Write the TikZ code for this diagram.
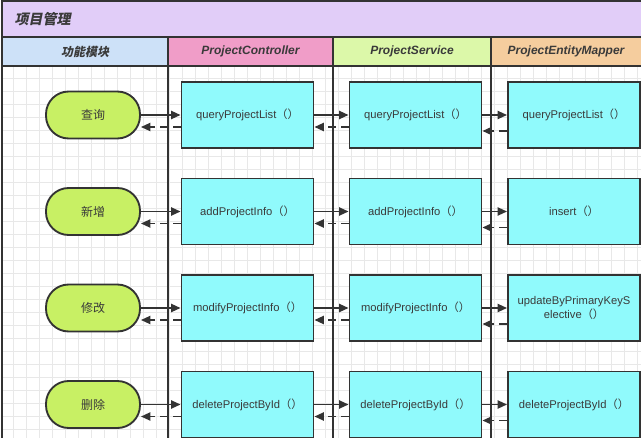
\documentclass[tikz,border=0pt]{standalone}
\usepackage{fontspec}
\setmainfont{Liberation Sans}
\newfontfamily\cjk{Noto Sans CJK SC}
\newfontfamily\cjkslant[FakeSlant=0.2]{Noto Sans CJK SC}
\usetikzlibrary{arrows.meta}
\definecolor{linegray}{HTML}{333333}
\definecolor{textgray}{HTML}{3A3A3A}
\definecolor{gridgray}{HTML}{E8E8E8}
\definecolor{titlepurple}{HTML}{E1CDF8}
\definecolor{headblue}{HTML}{CDE1F8}
\definecolor{headpink}{HTML}{F09DC8}
\definecolor{headgreen}{HTML}{DCF8A9}
\definecolor{headpeach}{HTML}{F5CD9E}
\definecolor{funcgreen}{HTML}{C8F064}
\definecolor{methodcyan}{HTML}{90FAFC}
\begin{document}
\begin{tikzpicture}[x=0.75pt,y=-0.75pt,
  func/.style={draw=linegray, line width=1.4pt, fill=funcgreen, rounded corners=17pt,
    minimum width=70.5pt, minimum height=35.25pt, inner sep=0pt,
    font=\cjk\fontsize{9}{11}\selectfont, text=textgray},
  method/.style={draw=linegray, line width=1.4pt, fill=methodcyan,
    minimum width=99pt, minimum height=49.5pt, inner sep=2pt, align=center,
    font=\fontsize{8.4}{11}\selectfont, text=textgray},
  call/.style={draw=linegray, line width=1.4pt, -{Triangle[length=7pt,width=6pt]}},
  reply/.style={call, dash pattern=on 6pt off 3.5pt},
  lane/.style={draw=linegray, line width=1.4pt},
  head/.style={font=\bfseries\itshape\fontsize{9}{11}\selectfont, text=textgray}]
\useasboundingbox (0,0) rectangle (641,438);

% Background grid
\fill [white] (2,66) rectangle (641,438);
\draw [gridgray, line width=0.5pt, step=9.75pt] (2,66) grid (641,438);

% Title band
\fill [titlepurple] (2,1) rectangle (641,37);
\node [anchor=west, text=textgray] (title) at (10,19) {\cjkslant\bfseries\fontsize{10.5}{12}\selectfont 项目管理};

% Header cells
\fill [headblue] (2,37) rectangle (168,66);
\fill [headpink] (168,37) rectangle (333,66);
\fill [headgreen] (333,37) rectangle (491,66);
\fill [headpeach] (491,37) rectangle (641,66);
\node [head] (H1) at (85,51.5) {\cjkslant 功能模块};
\node [head] (H2) at (250.5,51.5) {ProjectController};
\node [head] (H3) at (412,51.5) {ProjectService};
\node [head] (H4) at (566,51.5) {ProjectEntityMapper};

% Drawing frame and lanes
\draw [lane] (2,440) -- (2,1) -- (643,1);
\draw [linegray, line width=1pt] (2,37) -- (641,37);
\draw [linegray, line width=1pt] (2,66) -- (641,66);
\draw [lane] (168,37) -- (168,440);
\draw [lane] (333,37) -- (333,440);
\draw [lane] (491,37) -- (491,440);

% Marking function nodes
\node [func] (F1) at (93,115) {查询};
\node [func] (F2) at (93,211.5) {新增};
\node [func] (F3) at (93,308) {修改};
\node [func] (F4) at (93,404.5) {删除};

% Marking controller methods
\node [method] (C1) at (247.5,115) {queryProjectList{\cjk （）}};
\node [method] (C2) at (247.5,211.5) {addProjectInfo{\cjk （）}};
\node [method] (C3) at (247.5,308) {modifyProjectInfo{\cjk （）}};
\node [method] (C4) at (247.5,404.5) {deleteProjectById{\cjk （）}};

% Marking service methods
\node [method] (S1) at (415.5,115) {queryProjectList{\cjk （）}};
\node [method] (S2) at (415.5,211.5) {addProjectInfo{\cjk （）}};
\node [method] (S3) at (415.5,308) {modifyProjectInfo{\cjk （）}};
\node [method] (S4) at (415.5,404.5) {deleteProjectById{\cjk （）}};

% Marking mapper methods
\node [method] (M1) at (574,115) {queryProjectList{\cjk （）}};
\node [method] (M2) at (574,211.5) {insert{\cjk （）}};
\node [method] (M3) at (574,308) {updateByPrimaryKeyS\\elective{\cjk （）}};
\node [method] (M4) at (574,404.5) {deleteProjectById{\cjk （）}};

% Drawing calls F -> C and replies
\draw [call] (F1.east) -- (C1.west);
\draw [reply] ([yshift=-9pt]C1.west) -- ([yshift=-9pt]F1.east);
\draw [call] (F2.east) -- (C2.west);
\draw [reply] ([yshift=-9pt]C2.west) -- ([yshift=-9pt]F2.east);
\draw [call] (F3.east) -- (C3.west);
\draw [reply] ([yshift=-9pt]C3.west) -- ([yshift=-9pt]F3.east);
\draw [call] (F4.east) -- (C4.west);
\draw [reply] ([yshift=-9pt]C4.west) -- ([yshift=-9pt]F4.east);

% Drawing calls C -> S and replies
\draw [call] (C1.east) -- (S1.west);
\draw [reply] ([yshift=-9pt]S1.west) -- ([yshift=-9pt]C1.east);
\draw [call] (C2.east) -- (S2.west);
\draw [reply] ([yshift=-9pt]S2.west) -- ([yshift=-9pt]C2.east);
\draw [call] (C3.east) -- (S3.west);
\draw [reply] ([yshift=-9pt]S3.west) -- ([yshift=-9pt]C3.east);
\draw [call] (C4.east) -- (S4.west);
\draw [reply] ([yshift=-9pt]S4.west) -- ([yshift=-9pt]C4.east);

% Drawing calls S -> M and replies
\draw [call] (S1.east) -- (M1.west);
\draw [reply] ([yshift=-12pt]M1.west) -- ([yshift=-12pt]S1.east);
\draw [call] (S2.east) -- (M2.west);
\draw [reply] ([yshift=-12pt]M2.west) -- ([yshift=-12pt]S2.east);
\draw [call] (S3.east) -- (M3.west);
\draw [reply] ([yshift=-12pt]M3.west) -- ([yshift=-12pt]S3.east);
\draw [call] (S4.east) -- (M4.west);
\draw [reply] ([yshift=-12pt]M4.west) -- ([yshift=-12pt]S4.east);
\end{tikzpicture}
\end{document}
